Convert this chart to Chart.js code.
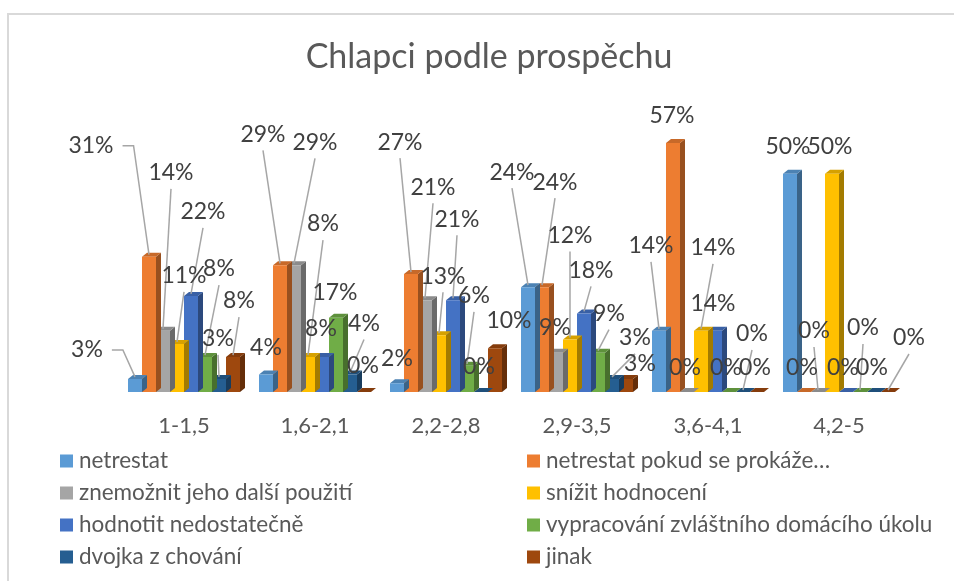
<!DOCTYPE html>
<html lang="cs">
<head>
<meta charset="utf-8">
<title>Chlapci podle prospěchu</title>
<script src="https://cdn.jsdelivr.net/npm/chart.js@4.4.1/dist/chart.umd.min.js"></script>
<style>
  html, body { margin: 0; padding: 0; background: #fff; }
  #wrap { position: relative; width: 954px; height: 581px; }
</style>
</head>
<body>
<div id="wrap"><canvas id="chart"></canvas></div>
<script>
// Grade average ranges
const categories = ['1-1,5', '1,6-2,1', '2,2-2,8', '2,9-3,5', '3,6-4,1', '4,2-5'];

// Share of answers in each range (%)
const netrestat      = [3, 4, 2, 24, 14, 50];
const netrestatPokud = [31, 29, 27, 24, 57, 0];
const znemoznit      = [14, 29, 21, 9, 0, 0];
const snizit         = [11, 8, 13, 12, 14, 50];
const nedostatecne   = [22, 8, 21, 18, 14, 0];
const ukol           = [8, 17, 6, 9, 0, 0];
const dvojka         = [3, 4, 0, 3, 0, 0];
const jinak          = [8, 0, 10, 3, 0, 0];

const seriesNames = [
    'netrestat',
    'netrestat pokud se prokáže…',
    'znemožnit jeho další použití',
    'snížit hodnocení',
    'hodnotit nedostatečně',
    'vypracování zvláštního domácího úkolu',
    'dvojka z chování',
    'jinak'
];
const seriesValues = [netrestat, netrestatPokud, znemoznit, snizit, nedostatecne, ukol, dvojka, jinak];
const seriesColors = ['#5B9BD5', '#ED7D31', '#A5A5A5', '#FFC000', '#4472C4', '#70AD47', '#255E91', '#9E480E'];

// Where each value label sits, relative to the top of its bar [dx, dy]
const labelShift = [
    [[-48, -29], [0, -27], [0, -25], [-16, -115], [-8, -85], [-2, -27]],
    [[-58, -111], [-17, -131], [-11, -132], [13, -105], [-1, -28], [-2, -24]],
    [[8, -158], [21, -123], [8, -113], [-1, -25], [-2, -24], [-4, -61]],
    [[7, -68], [15, -133], [4, -59], [0, -104], [12, -83], [-2, -27]],
    [[12, -84], [-1, -28], [4, -81], [7, -43], [-2, -27], [-3, -24]],
    [[14, -88], [-1, -25], [7, -70], [11, -39], [-3, -24], [3, -64]],
    [[-1, -40], [14, -51], [-2, -25], [23, -41], [9, -58], [-2, -24]],
    [[6, -56], [-1, -26], [14, -28], [14, -15], [-2, -24], [21, -54]]
];

const FONT = 'Lato, "Open Sans", sans-serif';
const DEPTH_X = 5;
const DEPTH_Y = 4;

function shade(hex, f) {
    const h = hex.replace('#', '');
    const r = Math.round(parseInt(h.substring(0, 2), 16) * f);
    const g = Math.round(parseInt(h.substring(2, 4), 16) * f);
    const b = Math.round(parseInt(h.substring(4, 6), 16) * f);
    return 'rgb(' + r + ', ' + g + ', ' + b + ')';
}

// White background and the thin frame round the chart
const frame = {
    id: 'frame',
    beforeDraw(chart) {
        const ctx = chart.ctx;
        ctx.save();
        ctx.fillStyle = '#ffffff';
        ctx.fillRect(0, 0, chart.width, chart.height);
        ctx.strokeStyle = '#d9d9d9';
        ctx.lineWidth = 2;
        ctx.beginPath();
        ctx.moveTo(8, chart.height);
        ctx.lineTo(8, 14);
        ctx.lineTo(chart.width, 14);
        ctx.stroke();
        ctx.restore();
    }
};

// Side and top faces, drawn before the fronts of each series
const bars3d = {
    id: 'bars3d',
    beforeDatasetDraw(chart, args) {
        const ctx = chart.ctx;
        const color = chart.data.datasets[args.index].backgroundColor;
        ctx.save();
        args.meta.data.forEach(bar => {
            const { x, y, base, width } = bar.getProps(['x', 'y', 'base', 'width'], true);
            const l = x - width / 2;
            const r = x + width / 2;
            ctx.fillStyle = shade(color, 0.64);
            ctx.beginPath();
            ctx.moveTo(r, y);
            ctx.lineTo(r + DEPTH_X, y - DEPTH_Y);
            ctx.lineTo(r + DEPTH_X, base - DEPTH_Y);
            ctx.lineTo(r, base);
            ctx.closePath();
            ctx.fill();
            ctx.fillStyle = shade(color, 0.84);
            ctx.beginPath();
            ctx.moveTo(l, y);
            ctx.lineTo(l + DEPTH_X, y - DEPTH_Y);
            ctx.lineTo(r + DEPTH_X, y - DEPTH_Y);
            ctx.lineTo(r, y);
            ctx.closePath();
            ctx.fill();
        });
        ctx.restore();
    }
};

// Percentage labels with leader lines
const pctLabels = {
    id: 'pctLabels',
    afterDatasetsDraw(chart) {
        const ctx = chart.ctx;
        ctx.save();
        ctx.font = '23px ' + FONT;
        ctx.textAlign = 'center';
        ctx.textBaseline = 'middle';
        const items = [];
        chart.data.datasets.forEach((ds, i) => {
            chart.getDatasetMeta(i).data.forEach((bar, j) => {
                const [dx, dy] = labelShift[i][j];
                items.push({ bar, text: ds.data[j] + '%', tx: bar.x + dx, ty: bar.y + dy, dx, dy });
            });
        });
        ctx.strokeStyle = '#a6a6a6';
        ctx.lineWidth = 1.5;
        items.forEach(it => {
            const w = ctx.measureText(it.text).width;
            ctx.beginPath();
            if (it.dx < -30) {
                const sx = it.tx + w / 2 + 9;
                ctx.moveTo(sx, it.ty);
                ctx.lineTo(sx + 11, it.ty);
                ctx.lineTo(it.bar.x, it.bar.y - 2);
                ctx.stroke();
            } else if (it.dy < -35) {
                ctx.moveTo(it.tx, it.ty + 16);
                ctx.lineTo(it.bar.x, it.bar.y - 2);
                ctx.stroke();
            }
        });
        ctx.fillStyle = '#404040';
        items.forEach(it => ctx.fillText(it.text, it.tx, it.ty));
        ctx.restore();
    }
};

// Two-column legend under the plot
const gridLegend = {
    id: 'gridLegend',
    afterDraw(chart, args, opts) {
        const ctx = chart.ctx;
        ctx.save();
        ctx.font = '22.5px ' + FONT;
        ctx.textAlign = 'left';
        ctx.textBaseline = 'middle';
        chart.data.datasets.forEach((ds, i) => {
            const col = i % 2;
            const row = Math.floor(i / 2);
            const x = opts.columns[col];
            const y = opts.top + row * opts.rowGap;
            ctx.fillStyle = ds.backgroundColor;
            ctx.fillRect(x, y - 6.5, 13, 13);
            ctx.fillStyle = '#595959';
            ctx.fillText(ds.label, x + 19, y);
        });
        ctx.restore();
    }
};

Chart.defaults.font.family = FONT;

new Chart(document.getElementById('chart'), {
    type: 'bar',
    data: {
        labels: categories,
        datasets: seriesValues.map((values, i) => ({
            label: seriesNames[i],
            data: values,
            backgroundColor: seriesColors[i],
            borderWidth: 0,
            categoryPercentage: 0.855,
            barPercentage: 1.0
        }))
    },
    options: {
        responsive: true,
        maintainAspectRatio: false,
        animation: false,
        layout: {
            padding: { top: 20, left: 73.5, right: 49.5, bottom: 121.6 }
        },
        plugins: {
            legend: { display: false },
            tooltip: { enabled: false },
            title: {
                display: true,
                text: 'Chlapci podle prospěchu',
                color: '#595959',
                font: { size: 34, weight: 'normal' },
                padding: { top: 16.6, bottom: 52.6 }
            },
            gridLegend: {
                columns: [60, 527],
                top: 461,
                rowGap: 32
            }
        },
        scales: {
            x: {
                grid: { display: false, drawTicks: false },
                border: { display: false },
                ticks: {
                    color: '#595959',
                    font: { size: 22 },
                    padding: 20.5
                }
            },
            y: {
                min: 0,
                max: 60,
                grid: { display: false, drawTicks: false },
                border: { display: false },
                ticks: { display: false },
                afterFit(scale) {
                    scale.width = 45;
                }
            }
        }
    },
    plugins: [frame, bars3d, pctLabels, gridLegend]
});
</script>
</body>
</html>
